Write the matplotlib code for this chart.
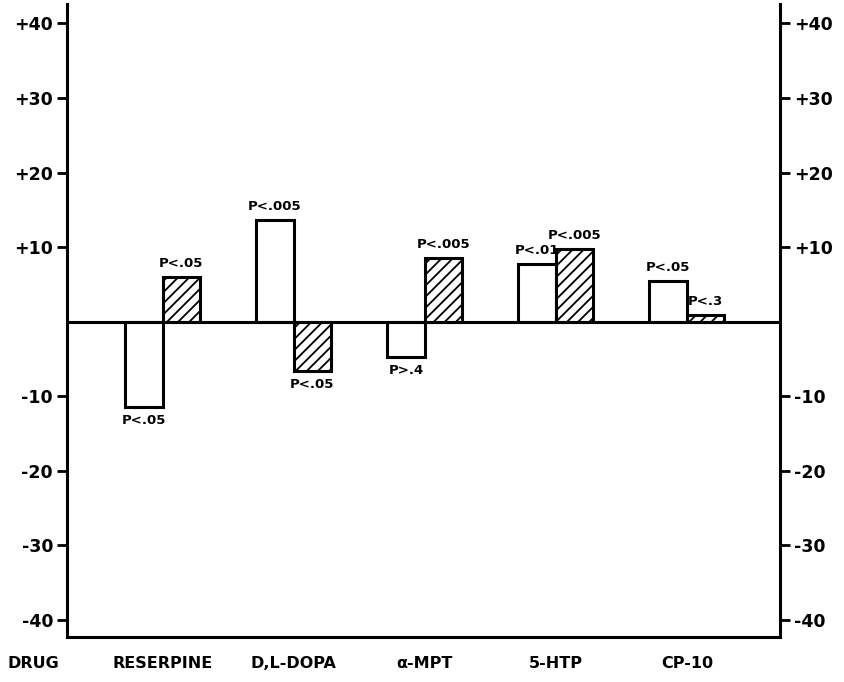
import matplotlib
matplotlib.use("Agg")
import matplotlib.pyplot as plt
import matplotlib.transforms as mtransforms
import numpy as np

# Change from control for each drug; open = first measure, hatched = second
drugs = ["RESERPINE", "D,L-DOPA", "\u03b1-MPT", "5-HTP", "CP-10"]
open_vals = [-11.5, 13.6, -4.7, 7.7, 5.4]
hatched_vals = [6.0, -6.6, 8.6, 9.7, 0.9]
open_p = ["P<.05", "P<.005", "P>.4", "P<.01", "P<.05"]
hatched_p = ["P<.05", "P<.05", "P<.005", "P<.005", "P<.3"]

ytick_vals = [40, 30, 20, 10, -10, -20, -30, -40]
ytick_labels = ["+40", "+30", "+20", "+10", "-10", "-20", "-30", "-40"]

plt.rcParams["font.family"] = "DejaVu Sans"
plt.rcParams["font.weight"] = "bold"
plt.rcParams["hatch.linewidth"] = 1.3

fig = plt.figure(figsize=(8.44, 6.82), dpi=100)
ax = fig.add_axes([0.0794, 0.066, 0.8446, 0.928])

x = np.arange(len(drugs))
w = 0.285
lw = 2.2

ax.bar(x - w / 2, open_vals, width=w, facecolor="white", edgecolor="black",
       linewidth=lw, zorder=3)
ax.bar(x + w / 2, hatched_vals, width=w, facecolor="white", edgecolor="black",
       linewidth=lw, hatch="///", zorder=3)

ax.axhline(0, color="black", linewidth=2.2, zorder=4)

# significance labels above positive bars, below negative ones
for xs, vals, labels in [(x - w / 2, open_vals, open_p),
                         (x + w / 2, hatched_vals, hatched_p)]:
    for xi, v, lab in zip(xs, vals, labels):
        off = 5 if v >= 0 else -5
        ax.annotate(lab, (xi, v), xytext=(0, off), textcoords="offset points",
                    ha="center", va="bottom" if v >= 0 else "top",
                    fontsize=9.5, fontweight="bold")

ax.set_xlim(-0.73, 4.71)
ax.set_ylim(-42.3, 42.6)

for side in ["left", "right", "bottom"]:
    ax.spines[side].set_linewidth(2.2)
ax.spines["top"].set_visible(False)

ax.set_yticks(ytick_vals)
ax.set_yticklabels(ytick_labels)
ax.tick_params(axis="y", which="both", direction="out", length=7, width=2,
               labelsize=12.5, left=True, right=True, labelleft=True,
               labelright=True, pad=3)
for lab in ax.get_yticklabels():
    lab.set_fontweight("bold")

ax.set_xticks(x)
ax.set_xticklabels(drugs)
ax.tick_params(axis="x", length=0, pad=14, labelsize=11.5)
for lab in ax.get_xticklabels():
    lab.set_fontweight("bold")

trans = mtransforms.blended_transform_factory(ax.transData, ax.transAxes)
ax.annotate("DRUG", (-0.99, 0), xycoords=trans, xytext=(0, -14),
            textcoords="offset points", ha="center", va="top",
            fontsize=11.5, fontweight="bold", annotation_clip=False)

fig.savefig("out.png", dpi=100, facecolor="white")
